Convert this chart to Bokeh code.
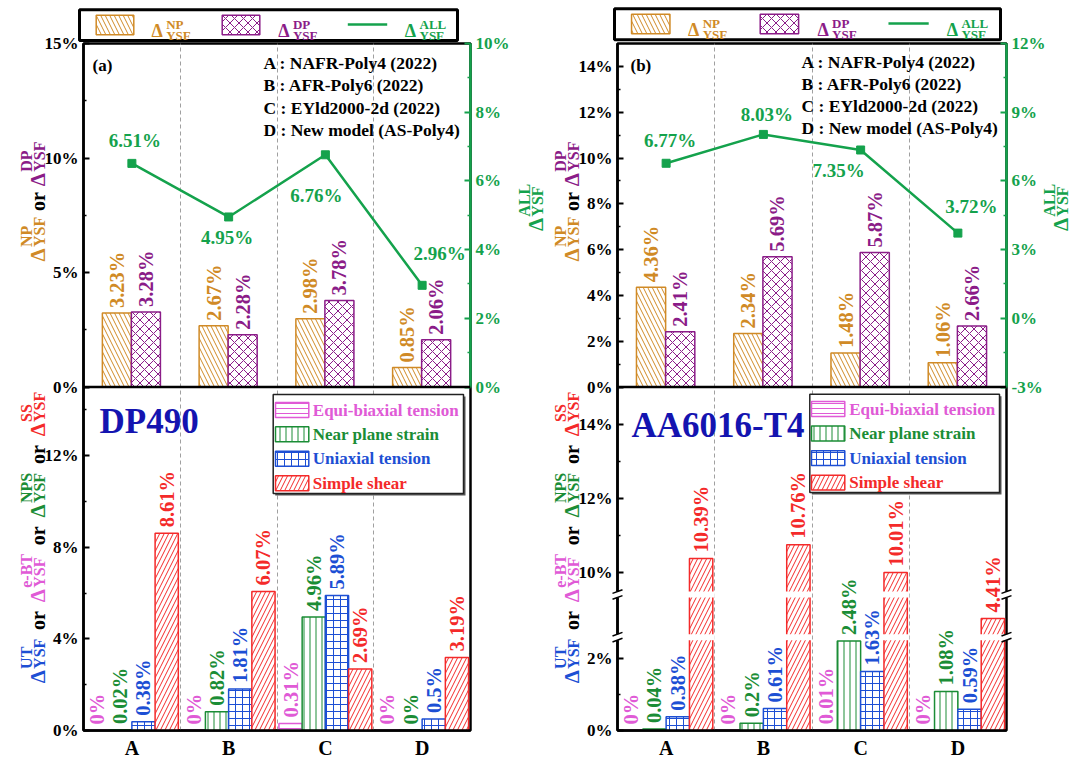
import math
from bokeh.plotting import figure
from bokeh.models import Range1d, LinearAxis, FixedTicker, CustomJSTickFormatter, Span
from bokeh.layouts import row
from bokeh.embed import file_html
from bokeh.resources import INLINE
from bokeh.core.properties import value

FONT = "Liberation Serif"

# ---------------- data ----------------
models = ["A", "B", "C", "D"]
model_desc = ["A : NAFR-Poly4 (2022)", "B : AFR-Poly6 (2022)",
              "C : EYld2000-2d (2022)", "D : New model (AS-Poly4)"]
states = ["Equi-biaxial tension", "Near plane strain", "Uniaxial tension", "Simple shear"]

# (a) DP490
dp490_np = [3.23, 2.67, 2.98, 0.85]
dp490_dp = [3.28, 2.28, 3.78, 2.06]
dp490_all = [6.51, 4.95, 6.76, 2.96]
dp490_ebt = [0, 0, 0.31, 0]
dp490_nps = [0.02, 0.82, 4.96, 0]
dp490_ut = [0.38, 1.81, 5.89, 0.5]
dp490_ss = [8.61, 6.07, 2.69, 3.19]

# (b) AA6016-T4
aa_np = [4.36, 2.34, 1.48, 1.06]
aa_dp = [2.41, 5.69, 5.87, 2.66]
aa_all = [6.77, 8.03, 7.35, 3.72]
aa_ebt = [0, 0, 0.01, 0]
aa_nps = [0.04, 0.2, 2.48, 1.08]
aa_ut = [0.38, 0.61, 1.63, 0.59]
aa_ss = [10.39, 10.76, 10.01, 4.41]

# axis ticks
dp490_top_ticks = [0, 5, 10, 15]
dp490_top_minor = [2.5, 7.5, 12.5]
dp490_all_ticks = [0, 2, 4, 6, 8, 10]
dp490_all_minor = [1, 3, 5, 7, 9]
dp490_bot_ticks = [0, 4, 8, 12]
dp490_bot_minor = [2, 6, 10, 14]
aa_top_ticks = [0, 2, 4, 6, 8, 10, 12, 14]
aa_top_minor = [1, 3, 5, 7, 9, 11, 13]
aa_all_ticks = [-3, 0, 3, 6, 9, 12]
aa_all_minor = [-1.5, 1.5, 4.5, 7.5, 10.5]
aa_bot_ticks = [0, 2, 10, 12, 14]
aa_bot_minor = [1, 11, 13]
aa_bot_segments = [(0, 2.5), (2.5, 7.0), (9.5, 15.0)]   # broken value axis

# ---------------- styles ----------------
ORANGE = "#d08a26"
PURPLE = "#8b1c88"
GREEN = "#14a24c"
PINK = "#e05ad6"
GREEN2 = "#1b8d36"
BLUE = "#1d4fd4"
RED = "#f42a2a"
NAVY = "#1414b0"

TOP_STYLE = [dict(color=ORANGE, hatch="\\", scale=9), dict(color=PURPLE, hatch="x", scale=9)]
BOT_STYLE = [dict(color=PINK, hatch="-", scale=5), dict(color=GREEN2, hatch="|", scale=6),
             dict(color=BLUE, hatch="+", scale=7), dict(color=RED, hatch="/", scale=9)]
TOP_OFF, TOP_W = [0.345, 0.645], 0.30
BOT_OFF, BOT_W = [0.14, 0.38, 0.62, 0.86], 0.24

CW = {'Δ': .62, 'A': .722, 'B': .667, 'C': .722, 'D': .722, 'E': .667, 'F': .611, 'L': .667,
      'N': .722, 'P': .611, 'S': .556, 'T': .667, 'U': .722, 'Y': .722, 'o': .5, 'r': .444,
      'e': .444, '-': .333}


def tw(s, size):
    return sum(CW.get(c, .55) for c in s) * size


def pct(v):
    return f"{v:g}%"


def make_bmap(segments, seg_px, gap_px, total_px=346.0, span=15.0):
    k = span / total_px
    starts, s = [], 0.0
    for px in seg_px:
        starts.append(s)
        s += px + gap_px
    gaps = [((st + px) * k, (st + px + gap_px) * k) for st, px in zip(starts[:-1], seg_px[:-1])]

    def f(v):
        for i, ((lo, hi), px) in enumerate(zip(segments, seg_px)):
            if v <= hi or i == len(segments) - 1:
                return (starts[i] + (max(v, lo) - lo) / (hi - lo) * px) * k
    return f, gaps


def lookup_fmt(pos, lab):
    return CustomJSTickFormatter(args=dict(pos=[float(v) for v in pos], lab=list(lab)), code="""
for (let i = 0; i < pos.length; i++) {
  if (Math.abs(pos[i] - tick) < 1e-6) { return lab[i]; }
}
return "";
""")


def style_axis(ax, color, size="17px"):
    ax.axis_line_color = color
    ax.axis_line_width = 2.5
    ax.major_tick_line_color = color
    ax.major_tick_line_width = 2
    ax.minor_tick_line_color = color
    ax.minor_tick_line_width = 1.5
    ax.major_tick_in = 6
    ax.major_tick_out = 0
    ax.minor_tick_in = 3
    ax.minor_tick_out = 0
    ax.major_label_text_color = color
    ax.major_label_text_font = FONT
    ax.major_label_text_font_style = "bold"
    ax.major_label_text_font_size = size
    ax.major_label_standoff = 5


def delta_chain(items, ds=21, ss=16, os_=20, sup_up=11, sub_dn=2, gap_or=6):
    out, u = [], 0.0
    for it in items:
        if it == "or":
            u += gap_or
            out.append(("or", "black", os_, u, 0.0))
            u += tw("or", os_) + gap_or
        else:
            sup, col = it
            out.append(("Δ", col, ds, u, 0.0))
            u += tw("Δ", ds) + 1.5
            out.append((sup, col, ss, u, sup_up))
            out.append(("YSF", col, ss, u, -sub_dn))
            u += max(tw(sup, ss), tw("YSF", ss))
    return out, u


def place(p, cx, cy, X0, Y0, pieces, vertical):
    xs, ys, ts, cs, fs, an = [], [], [], [], [], []
    for text, col, size, du, dv in pieces:
        if vertical:
            X, Y, ang = X0 - dv, Y0 - du, math.pi / 2
        else:
            X, Y, ang = X0 + du, Y0 - dv, 0.0
        xs.append(cx(X)); ys.append(cy(Y)); ts.append(text); cs.append(col)
        fs.append(f"{size}px"); an.append(ang)
    p.text(x=xs, y=ys, text=ts, angle=an, text_color=cs, text_font_size=fs,
           text_font=value(FONT), text_font_style="bold", text_align="left",
           text_baseline="alphabetic", level="overlay")


def vtitle(p, cx, cy, X0, Yc, items, **kw):
    pieces, length = delta_chain(items, **kw)
    place(p, cx, cy, X0, Yc + length / 2.0, pieces, True)


def top_legend(p, cx, cy, box):
    L, R, T, B = box
    s = (R - L) / 378.0
    p.quad(left=cx(L), right=cx(R), top=cy(T), bottom=cy(B), fill_color="white",
           line_color="black", line_width=3, level="overlay")
    for (a, b), st in zip([(16.7, 54.3), (142.7, 180.3)], TOP_STYLE):
        p.quad(left=cx(L + a * s), right=cx(L + b * s), top=cy(T + 5.7), bottom=cy(T + 25.3),
               fill_color="white", line_color=st["color"], line_width=1.5,
               hatch_pattern=st["hatch"], hatch_color=st["color"], hatch_scale=st["scale"],
               hatch_weight=1, level="overlay")
    p.segment(x0=cx(L + 268.3 * s), x1=cx(L + 307.7 * s), y0=cy(T + 15), y1=cy(T + 15),
              line_color=GREEN, line_width=2.5, level="overlay")
    p.scatter(x=[cx(L + 287.7 * s)], y=[cy(T + 15)], marker="square", size=8, color=GREEN,
              level="overlay")
    for xd, sup, col in [(72, "NP", ORANGE), (198.7, "DP", PURPLE), (325.3, "ALL", GREEN)]:
        pieces = [("Δ", col, 18, 0, 0), (sup, col, 13, 14.7, 6), ("YSF", col, 13, 14.7, -5)]
        place(p, cx, cy, L + xd * s, T + 21, pieces, False)


def build(P):
    FL, FR, FT, FB = P["frame"]
    X0c, W, H = P["canvas_x"], P["width"], 761
    p = figure(width=W, height=H, x_range=Range1d(0, 4), y_range=Range1d(0, 30),
               min_border_left=FL - X0c, min_border_right=X0c + W - FR,
               min_border_top=FT, min_border_bottom=H - FB,
               output_backend="svg", toolbar_location=None, tools="")
    p.extra_y_ranges = {"top": Range1d(-15, 15), "all": Range1d(*P["all_range"])}

    def cx(X):
        return (X - FL) / (FR - FL) * 4.0

    def cy(Y):
        return (FB - Y) / (FB - FT) * 30.0

    dpx = 4.0 / (FR - FL)
    bmap = P["bmap"]

    p.outline_line_color = "black"
    p.outline_line_width = 2.5
    p.ygrid.visible = False
    p.xgrid.ticker = FixedTicker(ticks=[1, 2, 3])
    p.xgrid.grid_line_color = "#a0a0a0"
    p.xgrid.grid_line_dash = "4 3"
    p.xgrid.grid_line_width = 1

    # x axis
    xa = p.xaxis[0]
    xt = [i + 0.5 for i in range(4)]
    xa.ticker = FixedTicker(ticks=xt)
    xa.formatter = lookup_fmt(xt, models)
    style_axis(xa, "black", "20px")
    xa.major_tick_in = 0
    xa.minor_tick_in = 0
    xa.major_label_standoff = 6

    # left axis (bottom panel + top panel share it)
    ya = p.yaxis[0]
    pos = [bmap(t) for t in P["bot_ticks"]] + [15 + t for t in P["top_ticks"]]
    lab = [pct(t) for t in P["bot_ticks"]] + [pct(t) for t in P["top_ticks"]]
    minor = [bmap(t) for t in P["bot_minor"]] + [15 + t for t in P["top_minor"]]
    ya.ticker = FixedTicker(ticks=pos, minor_ticks=minor)
    ya.formatter = lookup_fmt(pos, lab)
    style_axis(ya, "black")

    # green right axis for the top panel
    ga = LinearAxis(y_range_name="all", bounds=P["all_bounds"],
                    ticker=FixedTicker(ticks=P["all_ticks"], minor_ticks=P["all_minor"]),
                    formatter=lookup_fmt(P["all_ticks"], [pct(t) for t in P["all_ticks"]]))
    style_axis(ga, GREEN)
    p.add_layout(ga, "right")

    p.add_layout(Span(location=15, dimension="width", line_color="black", line_width=2.5))

    # ---- top panel bars ----
    for vals, off, st in zip(P["top"], TOP_OFF, TOP_STYLE):
        xs = [i + off for i in range(4)]
        p.vbar(x=xs, top=vals, bottom=0, width=TOP_W, y_range_name="top",
               fill_color="white", line_color=st["color"], line_width=1.5,
               hatch_pattern=st["hatch"], hatch_color=st["color"], hatch_scale=st["scale"],
               hatch_weight=1)
        p.text(x=xs, y=vals, text=[pct(v) for v in vals], angle=math.pi / 2, y_offset=-5,
               y_range_name="top", text_align="left", text_baseline="middle",
               text_color=st["color"], text_font=value(FONT), text_font_style="bold",
               text_font_size="20.5px")

    # ---- ALL line ----
    xc = [i + 0.5 for i in range(4)]
    p.line(x=xc, y=P["all"], y_range_name="all", line_color=GREEN, line_width=2.5)
    p.scatter(x=xc, y=P["all"], y_range_name="all", marker="square", size=8, color=GREEN)
    p.text(x=xc, y=P["all"], text=[pct(v) for v in P["all"]],
           x_offset=[o[0] for o in P["all_lab_off"]], y_offset=[o[1] for o in P["all_lab_off"]],
           y_range_name="all", text_align="center", text_baseline="middle", text_color=GREEN,
           text_font=value(FONT), text_font_style="bold", text_font_size="19px")

    # ---- bottom panel bars ----
    gaps = P["gaps"]
    for vals, off, st in zip(P["bot"], BOT_OFF, BOT_STYLE):
        xs = [i + off for i in range(4)]
        tops = [bmap(v) for v in vals]
        p.vbar(x=xs, top=tops, bottom=0, width=BOT_W,
               fill_color="white", line_color=st["color"], line_width=1.5,
               hatch_pattern=st["hatch"], hatch_color=st["color"], hatch_scale=st["scale"],
               hatch_weight=1)
        for g0, g1 in gaps:
            gx = [x for x, t in zip(xs, tops) if t > g1]
            if gx:
                p.quad(left=[x - BOT_W / 2 - 2 * dpx for x in gx],
                       right=[x + BOT_W / 2 + 2 * dpx for x in gx],
                       bottom=g0, top=g1, fill_color="white", line_color=None)
        p.text(x=xs, y=tops, text=[pct(v) for v in vals], angle=math.pi / 2, y_offset=-6,
               text_align="left", text_baseline="middle",
               text_color=st["color"], text_font=value(FONT), text_font_style="bold",
               text_font_size="20.5px")

    # axis break marks
    for g0, g1 in gaps:
        for X in (FL, FR):
            p.quad(left=cx(X - 4), right=cx(X + 4), bottom=g0, top=g1, fill_color="white",
                   line_color=None, level="overlay")
            for g in (g0, g1):
                p.segment(x0=cx(X - 5), x1=cx(X + 5), y0=g - 0.08, y1=g + 0.08,
                          line_color="black", line_width=1.5, level="overlay")

    # ---- in-frame texts ----
    tx, ty = P["tag_xy"]
    p.text(x=[cx(tx)], y=[cy(ty)], text=[P["tag"]], text_align="left", text_baseline="middle",
           text_color="black", text_font=value(FONT), text_font_style="bold", text_font_size="17px")
    p.text(x=[cx(P["desc_x"])] * 4, y=[cy(v) for v in P["desc_y"]], text=model_desc,
           text_align="left", text_baseline="middle", text_color="black",
           text_font=value(FONT), text_font_style="bold", text_font_size="17.5px")
    mx, my = P["mat_xy"]
    p.text(x=[cx(mx)], y=[cy(my)], text=[P["mat"]], text_align="left", text_baseline="middle",
           text_color=NAVY, text_font=value(FONT), text_font_style="bold", text_font_size="35px")

    # bottom legend (with a small shadow)
    L, R, T, B = P["blegend_box"]
    p.quad(left=cx(L + 2), right=cx(R + 2), top=cy(T + 2), bottom=cy(B + 2), fill_color="#555555",
           line_color=None)
    p.quad(left=cx(L), right=cx(R), top=cy(T), bottom=cy(B), fill_color="white",
           line_color="#222222", line_width=1.5)
    s0, s1 = P["blegend_sw"]
    for yc, st in zip(P["blegend_y"], BOT_STYLE):
        p.quad(left=cx(s0), right=cx(s1), top=cy(yc - 7.5), bottom=cy(yc + 7.5),
               fill_color="white", line_color=st["color"], line_width=1.5,
               hatch_pattern=st["hatch"], hatch_color=st["color"], hatch_scale=st["scale"],
               hatch_weight=1)
    p.text(x=[cx(P["blegend_tx"])] * 4, y=[cy(v) for v in P["blegend_y"]], text=states,
           text_color=[st["color"] for st in BOT_STYLE], text_align="left",
           text_baseline="middle", text_font=value(FONT), text_font_style="bold",
           text_font_size="17px")

    # ---- axis titles ----
    vtitle(p, cx, cy, P["title_x"], P["title_top_yc"], [("NP", ORANGE), "or", ("DP", PURPLE)])
    vtitle(p, cx, cy, P["title_x"], P["title_bot_yc"],
           [("UT", BLUE), "or", ("e-BT", PINK), "or", ("NPS", GREEN2), "or", ("SS", RED)],
           gap_or=9)
    vtitle(p, cx, cy, P["gtitle_x"], P["gtitle_yc"], [("ALL", GREEN)])

    top_legend(p, cx, cy, P["legend_box"])
    return p


bm_id = lambda v: v
bm_aa, gaps_aa = make_bmap(aa_bot_segments, [91, 37, 206], 6)

SPLIT = 546
PANELS = [
    dict(canvas_x=0, width=SPLIT, frame=(83, 470, 43, 734),
         top=(dp490_np, dp490_dp), all=dp490_all,
         bot=(dp490_ebt, dp490_nps, dp490_ut, dp490_ss),
         top_ticks=dp490_top_ticks, top_minor=dp490_top_minor,
         bot_ticks=dp490_bot_ticks, bot_minor=dp490_bot_minor,
         all_ticks=dp490_all_ticks, all_minor=dp490_all_minor,
         all_range=(-10, 10), all_bounds=(0, 10), bmap=bm_id, gaps=[],
         all_lab_off=[(3, -23), (-1.5, 21), (-9, 41), (17.6, -31.7)],
         tag="(a)", tag_xy=(92, 65), desc_x=263, desc_y=[63, 85, 107.5, 130],
         mat="DP490", mat_xy=(99, 423),
         legend_box=(79, 457, 9, 40), blegend_box=(272.7, 463, 396, 495.7),
         blegend_sw=(275, 308.3), blegend_tx=312.3, blegend_y=[411.7, 436, 460.7, 485.3],
         title_x=37, title_top_yc=202, title_bot_yc=540, gtitle_x=535, gtitle_yc=208),
    dict(canvas_x=SPLIT, width=1072 - SPLIT, frame=(617, 1006, 43, 734),
         top=(aa_np, aa_dp), all=aa_all,
         bot=(aa_ebt, aa_nps, aa_ut, aa_ss),
         top_ticks=aa_top_ticks, top_minor=aa_top_minor,
         bot_ticks=aa_bot_ticks, bot_minor=aa_bot_minor,
         all_ticks=aa_all_ticks, all_minor=aa_all_minor,
         all_range=(-18, 12), all_bounds=(-3, 12), bmap=bm_aa, gaps=gaps_aa,
         all_lab_off=[(4, -23), (3.4, -20), (-22, 21), (13.4, -27)],
         tag="(b)", tag_xy=(630, 65), desc_x=801, desc_y=[62, 84, 105.5, 127.5],
         mat="AA6016-T4", mat_xy=(631, 427),
         legend_box=(614, 1000, 8, 39.3), blegend_box=(809.3, 999, 395.7, 494.7),
         blegend_sw=(811, 844.3), blegend_tx=848.7, blegend_y=[410.7, 435.3, 460, 484.7],
         title_x=571, title_top_yc=202, title_bot_yc=540, gtitle_x=1060, gtitle_yc=208),
]

figs = [build(P) for P in PANELS]
layout = row(*figs)
open("out.html", "w").write(file_html(layout, INLINE, "chart"))
